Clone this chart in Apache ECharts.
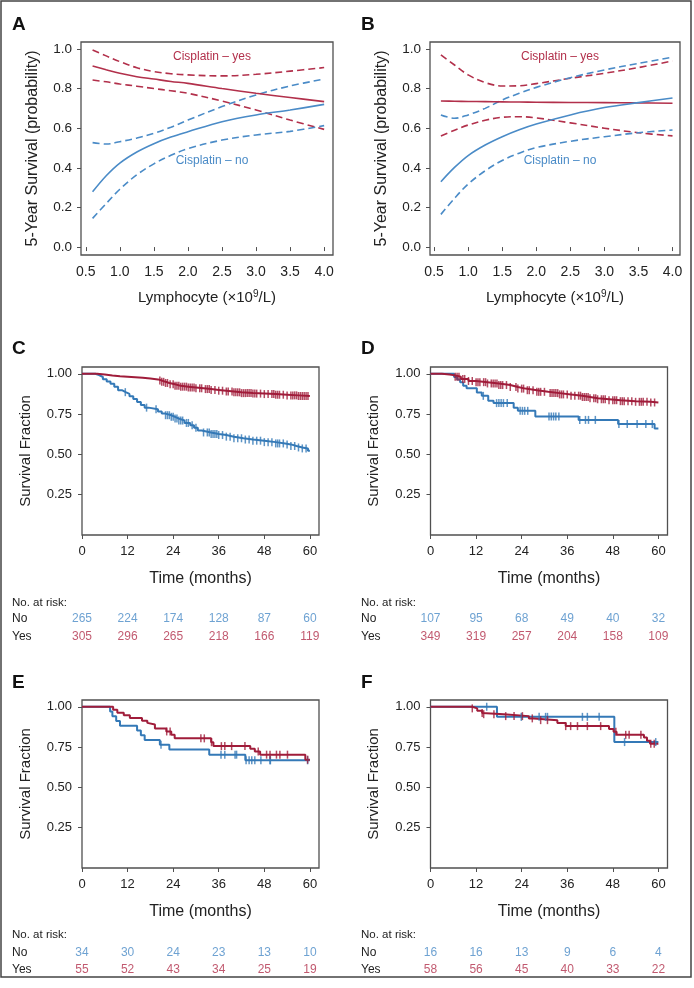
<!DOCTYPE html>
<html><head><meta charset="utf-8">
<script src="https://cdn.jsdelivr.net/npm/echarts@6/dist/echarts.min.js"></script>
<style>html,body{margin:0;padding:0;background:#fff}#c{width:694px;height:988px}</style>
</head><body><div id="c"></div>
<script>
// ---------- Panels A/B : spline estimates ----------
const lymph = [0.6, 0.8, 1.0, 1.25, 1.5, 1.75, 2.0, 2.5, 3.0, 3.5, 4.0];
const aYesFit   = [0.914, 0.895, 0.877, 0.860, 0.848, 0.836, 0.826, 0.800, 0.776, 0.755, 0.734];
const aYesUpper = [0.995, 0.965, 0.936, 0.905, 0.886, 0.875, 0.869, 0.864, 0.872, 0.888, 0.906];
const aYesLower = [0.843, 0.834, 0.823, 0.812, 0.800, 0.789, 0.776, 0.737, 0.692, 0.641, 0.594];
const aNoFit    = [0.279, 0.360, 0.424, 0.480, 0.522, 0.555, 0.582, 0.633, 0.667, 0.692, 0.720];
const aNoUpper  = [0.527, 0.520, 0.532, 0.550, 0.574, 0.605, 0.641, 0.709, 0.768, 0.813, 0.848];
const aNoLower  = [0.145, 0.220, 0.292, 0.365, 0.420, 0.463, 0.497, 0.540, 0.566, 0.584, 0.613];
const bYesFit   = [0.737, 0.736, 0.735, 0.734, 0.733, 0.732, 0.731, 0.730, 0.729, 0.728, 0.726];
const bYesUpper = [0.970, 0.919, 0.869, 0.830, 0.813, 0.814, 0.825, 0.852, 0.877, 0.906, 0.939];
const bYesLower = [0.561, 0.590, 0.616, 0.640, 0.655, 0.658, 0.652, 0.627, 0.600, 0.577, 0.561];
const bNoFit    = [0.330, 0.402, 0.462, 0.515, 0.557, 0.592, 0.621, 0.667, 0.704, 0.729, 0.752];
const bNoUpper  = [0.667, 0.650, 0.667, 0.700, 0.742, 0.776, 0.806, 0.855, 0.894, 0.927, 0.958];
const bNoLower  = [0.165, 0.246, 0.318, 0.385, 0.437, 0.474, 0.502, 0.534, 0.557, 0.577, 0.591];
const lymphTicks = [0.5, 1.0, 1.5, 2.0, 2.5, 3.0, 3.5, 4.0];
const probTicks = [0, 0.2, 0.4, 0.6, 0.8, 1.0];

// ---------- Panels C-F : Kaplan-Meier ----------
const timeTicks = [0, 12, 24, 36, 48, 60];
const survTicks = [0.25, 0.5, 0.75, 1.0];

const cNoT = [0, 3.5, 4.5, 5.5, 6.5, 7.5, 8.5, 9.5, 10.5, 11.5, 12.5, 13.5, 14.5, 15.5, 16.5, 17.5, 20.0, 21.0, 22.0, 23.5, 24.5, 25.5, 27.0, 28.5, 29.5, 30.5, 31.5, 34.0, 36.0, 38.0, 40.0, 42.5, 45.0, 48.0, 51.0, 53.5, 55.0, 56.5, 58.0, 59.5, 60.0];
const cNoS = [1, 0.992, 0.98, 0.966, 0.952, 0.938, 0.92, 0.898, 0.886, 0.875, 0.86, 0.843, 0.825, 0.806, 0.79, 0.78, 0.766, 0.753, 0.743, 0.733, 0.722, 0.71, 0.695, 0.68, 0.665, 0.648, 0.636, 0.627, 0.62, 0.61, 0.6, 0.592, 0.585, 0.576, 0.568, 0.562, 0.552, 0.543, 0.537, 0.523, 0.523];
const cNoCens = [11.4, 17.0, 19.5, 22, 22.5, 23, 23.5, 24, 24.5, 25, 25.5, 26, 26.5, 27.5, 28, 29, 30, 32, 33, 33.5, 34, 34.5, 35, 35.5, 36, 37, 38, 39, 40, 41, 42, 43, 44, 45, 46, 47, 48, 49, 50, 51, 51.5, 52, 53, 54, 55, 56, 57, 58, 59];
const cYesT = [0, 4, 6, 8, 10, 13, 16, 18, 20, 21, 22, 23, 24.5, 26, 28, 30, 32, 34, 36, 38, 40, 42, 45, 48, 51, 54, 57, 60];
const cYesS = [1, 0.996, 0.99, 0.985, 0.98, 0.975, 0.97, 0.965, 0.958, 0.95, 0.943, 0.935, 0.925, 0.92, 0.915, 0.91, 0.905, 0.9, 0.895, 0.89, 0.885, 0.88, 0.877, 0.874, 0.87, 0.866, 0.862, 0.862];
const cYesCens = [20.5, 21, 21.5, 22, 22.5, 23.2, 24, 24.5, 25, 25.5, 26, 26.5, 27, 27.5, 28, 28.5, 29, 29.5, 30, 31, 31.5, 32.5, 33, 33.5, 34, 35, 36, 37, 38, 38.5, 39.5, 40, 40.5, 41, 41.5, 42, 42.5, 43, 43.5, 44, 44.5, 45, 45.5, 46, 47, 48, 49, 50, 50.5, 51, 51.5, 52, 53, 54, 55, 55.5, 56, 56.5, 57, 57.5, 58, 58.5, 59, 59.5];

const dNoT = [0, 6.2, 7.0, 7.8, 8.6, 9.5, 12.2, 13.5, 15.2, 16.6, 21.9, 23.0, 27.6, 39.0, 49.4, 59.0, 60.0];
const dNoS = [1, 0.98, 0.965, 0.947, 0.926, 0.91, 0.884, 0.863, 0.832, 0.818, 0.79, 0.77, 0.735, 0.714, 0.688, 0.661, 0.661];
const dNoCens = [13.9, 17.4, 18.0, 18.6, 19.2, 20.2, 23.6, 24.2, 24.8, 25.6, 31.2, 31.8, 32.4, 33.0, 33.8, 39.3, 40.8, 41.6, 43.4, 49.6, 51.8, 54.4, 56.7, 58.4];
const dYesT = [0, 3, 5, 6.5, 8, 10, 12, 15, 18, 21, 23, 25, 28, 31, 34, 37, 40, 42, 44, 47, 50, 54, 58, 60];
const dYesS = [1, 0.996, 0.99, 0.982, 0.968, 0.955, 0.948, 0.94, 0.93, 0.918, 0.908, 0.898, 0.888, 0.88, 0.872, 0.864, 0.856, 0.848, 0.842, 0.836, 0.83, 0.826, 0.822, 0.822];
const dYesCens = [6.5, 7, 7.5, 8.5, 9, 10, 11, 12, 12.5, 13, 14, 14.5, 15, 16, 16.5, 17, 17.5, 18, 18.5, 19, 20, 21, 22.5, 23, 24, 24.5, 25.5, 26, 27, 28, 28.5, 29, 30, 31.5, 32, 32.5, 33, 33.5, 34, 34.5, 35, 36, 37, 38, 39, 39.5, 40, 40.5, 41, 41.5, 42, 43, 43.5, 44, 45, 45.5, 46, 47, 48, 48.5, 49, 50, 50.5, 51, 52, 53, 54, 55, 55.5, 56, 57, 58, 59];

const eNoT = [0, 7.4, 8.0, 9.0, 10.0, 14.5, 15.5, 16.5, 20.5, 23.0, 33.5, 43.0, 60.0];
const eNoS = [1, 0.971, 0.941, 0.912, 0.882, 0.853, 0.824, 0.794, 0.765, 0.735, 0.703, 0.668, 0.668];
const eNoCens = [20.8, 36.6, 37.6, 40.3, 40.7, 43.2, 44.0, 44.7, 45.5, 47.1, 49.5, 49.6, 59.4];
const eYesT = [0, 8.2, 9.3, 11.0, 12.6, 15.8, 17.2, 17.7, 19.2, 22.2, 23.5, 24.4, 34.0, 34.6, 44.3, 45.5, 46.9, 58.8, 60.0];
const eYesS = [1, 0.981, 0.963, 0.948, 0.93, 0.913, 0.9, 0.89, 0.866, 0.847, 0.826, 0.804, 0.78, 0.756, 0.739, 0.722, 0.703, 0.672, 0.672];
const eYesCens = [22.3, 23.2, 31.3, 32.2, 34.1, 36.7, 37.6, 39.4, 42.9, 46.4, 48.6, 49.5, 51.2, 52.1, 54.1, 59.4];

const fNoT = [0, 17.5, 48.4, 60.0];
const fNoS = [1, 0.9375, 0.781, 0.781];
const fNoCens = [14.8, 23.9, 28.6, 30.3, 30.8, 40.0, 41.3, 44.4, 51.1, 59.3];
const fYesT = [0, 11.0, 12.3, 13.6, 14.0, 19.3, 25.9, 27.2, 33.4, 35.6, 47.0, 48.2, 49.0, 56.2, 57.0, 57.8, 60.0];
const fYesS = [1, 0.99, 0.976, 0.962, 0.954, 0.942, 0.928, 0.917, 0.9, 0.88, 0.862, 0.845, 0.826, 0.81, 0.79, 0.77, 0.77];
const fYesCens = [11.0, 13.6, 14.0, 16.7, 19.8, 22.0, 24.2, 26.8, 29.0, 30.8, 35.6, 36.9, 38.7, 41.3, 44.8, 48.8, 51.4, 52.3, 55.4, 58.0, 58.9];

// numbers at risk
const riskTimes = [0, 12, 24, 36, 48, 60];
const cRiskNo = [265, 224, 174, 128, 87, 60];
const cRiskYes = [305, 296, 265, 218, 166, 119];
const dRiskNo = [107, 95, 68, 49, 40, 32];
const dRiskYes = [349, 319, 257, 204, 158, 109];
const eRiskNo = [34, 30, 24, 23, 13, 10];
const eRiskYes = [55, 52, 43, 34, 25, 19];
const fRiskNo = [16, 16, 13, 9, 6, 4];
const fRiskYes = [58, 56, 45, 40, 33, 22];

// ---------- styling ----------
const FONT = 'Liberation Sans, Arial, sans-serif';
const RED = '#b2304b', BLUE = '#4a8bc7';
const KRED = '#a01c3a', KBLUE = '#3479b7';
const TXT = '#222';
const BOX = '#505050';

const grids = [
  {left: 81, top: 42, width: 252, height: 213},
  {left: 430, top: 42, width: 250, height: 213},
  {left: 82, top: 367, width: 237, height: 168},
  {left: 430.5, top: 367, width: 237, height: 168},
  {left: 82, top: 700, width: 237, height: 168},
  {left: 430.5, top: 700, width: 237, height: 168},
  {left: 82, top: 610, width: 237, height: 36},
  {left: 430.5, top: 610, width: 237, height: 36},
  {left: 82, top: 943.5, width: 237, height: 35},
  {left: 430.5, top: 943.5, width: 237, height: 35}
].map((g, i) => Object.assign({show: i < 6, borderColor: BOX, borderWidth: 1.3, backgroundColor: 'transparent'}, g));

function lymphX(gi, min, max) {
  return {gridIndex: gi, type: 'value', min: min, max: max,
    axisLine: {show: false}, splitLine: {show: false},
    axisTick: {show: true, customValues: lymphTicks, length: 4, lineStyle: {color: BOX, width: 1}},
    axisLabel: {customValues: lymphTicks, formatter: v => v.toFixed(1), fontSize: 14, color: TXT, fontFamily: FONT, margin: 10},
    name: 'Lymphocyte (×10{s|9}/L)', nameLocation: 'middle', nameGap: 34,
    nameTextStyle: {fontSize: 15, color: TXT, fontFamily: FONT, rich: {s: {fontSize: 10, verticalAlign: 'top', padding: [0, 0, 8, 0], color: TXT, fontFamily: FONT}}}
  };
}
function probY(gi) {
  return {gridIndex: gi, type: 'value', min: -0.04, max: 1.035,
    axisLine: {show: false}, splitLine: {show: false},
    axisTick: {show: true, customValues: probTicks, length: 4, lineStyle: {color: BOX, width: 1}},
    axisLabel: {customValues: probTicks, formatter: v => v.toFixed(1), fontSize: 13.5, color: TXT, fontFamily: FONT, margin: 9},
    name: '5-Year Survival (probability)', nameLocation: 'middle', nameGap: 40,
    nameTextStyle: {fontSize: 16, color: TXT, fontFamily: FONT}
  };
}
function timeX(gi) {
  return {gridIndex: gi, type: 'value', min: 0, max: 62.4,
    axisLine: {show: false}, splitLine: {show: false},
    axisTick: {show: true, customValues: timeTicks, length: 4, lineStyle: {color: BOX, width: 1}},
    axisLabel: {customValues: timeTicks, fontSize: 13, color: TXT, fontFamily: FONT, margin: 10},
    name: 'Time (months)', nameLocation: 'middle', nameGap: 36,
    nameTextStyle: {fontSize: 16, color: TXT, fontFamily: FONT}
  };
}
function survY(gi) {
  return {gridIndex: gi, type: 'value', min: 0, max: 1.042,
    axisLine: {show: false}, splitLine: {show: false},
    axisTick: {show: true, customValues: survTicks, length: 4, lineStyle: {color: BOX, width: 1}},
    axisLabel: {customValues: survTicks, formatter: v => v.toFixed(2), fontSize: 13, color: TXT, fontFamily: FONT, margin: 10},
    name: 'Survival Fraction', nameLocation: 'middle', nameGap: 49,
    nameTextStyle: {fontSize: 15, color: TXT, fontFamily: FONT}
  };
}
function riskX(gi) {
  return {gridIndex: gi, type: 'value', min: 0, max: 62.4, show: false};
}
function riskY(gi, margin) {
  return {gridIndex: gi, type: 'category', data: ['Yes', 'No'],
    axisLine: {show: false}, axisTick: {show: false}, splitLine: {show: false},
    axisLabel: {align: 'left', margin: margin, fontSize: 12, color: TXT, fontFamily: FONT}};
}

const xAxis = [lymphX(0, 0.43, 4.13), lymphX(1, 0.44, 4.11), timeX(2), timeX(3), timeX(4), timeX(5),
  riskX(6), riskX(7), riskX(8), riskX(9)];
const yAxis = [probY(0), probY(1), survY(2), survY(3), survY(4), survY(5),
  riskY(6, 70), riskY(7, 69.5), riskY(8, 70), riskY(9, 69.5)];

const series = [];
function curve(gi, ys, color, dashed) {
  series.push({type: 'line', xAxisIndex: gi, yAxisIndex: gi, smooth: 0.35, showSymbol: false, silent: true,
    data: lymph.map((x, i) => [x, ys[i]]),
    lineStyle: {color: color, width: 1.6, type: dashed ? [7, 4] : 'solid'}});
}
curve(0, aYesUpper, RED, true); curve(0, aYesLower, RED, true);
curve(0, aNoUpper, BLUE, true); curve(0, aNoLower, BLUE, true);
curve(0, aYesFit, RED, false); curve(0, aNoFit, BLUE, false);
curve(1, bYesUpper, RED, true); curve(1, bYesLower, RED, true);
curve(1, bNoUpper, BLUE, true); curve(1, bNoLower, BLUE, true);
curve(1, bYesFit, RED, false); curve(1, bNoFit, BLUE, false);

function survAt(T, S, t) {
  let v = S[0];
  for (let i = 0; i < T.length; i++) { if (T[i] <= t) v = S[i]; }
  return v;
}
function km(gi, T, S, cens, color) {
  series.push({type: 'line', xAxisIndex: gi, yAxisIndex: gi, step: 'end', showSymbol: false, silent: true,
    data: T.map((t, i) => [t, S[i]]), lineStyle: {color: color, width: 2}});
  series.push({type: 'scatter', xAxisIndex: gi, yAxisIndex: gi, silent: true, symbol: 'rect', symbolSize: [1.5, 8],
    data: cens.map(t => [t, survAt(T, S, t)]), itemStyle: {color: color}, z: 3});
}
km(2, cNoT, cNoS, cNoCens, KBLUE); km(2, cYesT, cYesS, cYesCens, KRED);
km(3, dNoT, dNoS, dNoCens, KBLUE); km(3, dYesT, dYesS, dYesCens, KRED);
km(4, eNoT, eNoS, eNoCens, KBLUE); km(4, eYesT, eYesS, eYesCens, KRED);
km(5, fNoT, fNoS, fNoCens, KBLUE); km(5, fYesT, fYesS, fYesCens, KRED);

function risk(gi, counts, row, color) {
  series.push({type: 'scatter', xAxisIndex: gi, yAxisIndex: gi, silent: true, symbolSize: 1,
    itemStyle: {color: 'rgba(0,0,0,0)'},
    data: riskTimes.map((t, i) => [t, row, counts[i]]),
    label: {show: true, position: 'inside', formatter: p => String(p.value[2]), color: color, fontSize: 12, fontFamily: FONT}});
}
risk(6, cRiskNo, 'No', BLUE); risk(6, cRiskYes, 'Yes', RED);
risk(7, dRiskNo, 'No', BLUE); risk(7, dRiskYes, 'Yes', RED);
risk(8, eRiskNo, 'No', BLUE); risk(8, eRiskYes, 'Yes', RED);
risk(9, fRiskNo, 'No', BLUE); risk(9, fRiskYes, 'Yes', RED);

function txt(x, y, s, size, color, opts) {
  return Object.assign({type: 'text', x: x, y: y, silent: true,
    style: Object.assign({text: s, fontSize: size, fill: color, fontFamily: FONT}, opts || {})});
}
const letter = {fontWeight: 'bold', textVerticalAlign: 'top'};
const graphic = [
  {type: 'rect', silent: true, shape: {x: 1, y: 1, width: 690, height: 976}, style: {fill: 'none', stroke: '#444', lineWidth: 1.5}},
  txt(12, 15, 'A', 19, '#111', letter), txt(361, 15, 'B', 19, '#111', letter),
  txt(12, 339, 'C', 19, '#111', letter), txt(361, 339, 'D', 19, '#111', letter),
  txt(12, 673, 'E', 19, '#111', letter), txt(361, 673, 'F', 19, '#111', letter),
  txt(212, 57, 'Cisplatin – yes', 12, RED, {textAlign: 'center', textVerticalAlign: 'middle'}),
  txt(212, 161, 'Cisplatin – no', 12, BLUE, {textAlign: 'center', textVerticalAlign: 'middle'}),
  txt(560, 57, 'Cisplatin – yes', 12, RED, {textAlign: 'center', textVerticalAlign: 'middle'}),
  txt(560, 161, 'Cisplatin – no', 12, BLUE, {textAlign: 'center', textVerticalAlign: 'middle'}),
  txt(12, 603, 'No. at risk:', 11.5, TXT, {textVerticalAlign: 'middle'}),
  txt(361, 603, 'No. at risk:', 11.5, TXT, {textVerticalAlign: 'middle'}),
  txt(12, 935, 'No. at risk:', 11.5, TXT, {textVerticalAlign: 'middle'}),
  txt(361, 935, 'No. at risk:', 11.5, TXT, {textVerticalAlign: 'middle'})
];

const chart = echarts.init(document.getElementById('c'), null, {renderer: 'canvas'});
chart.setOption({animation: false, backgroundColor: '#fff', textStyle: {fontFamily: FONT},
  grid: grids, xAxis: xAxis, yAxis: yAxis, series: series, graphic: graphic});
</script></body></html>
